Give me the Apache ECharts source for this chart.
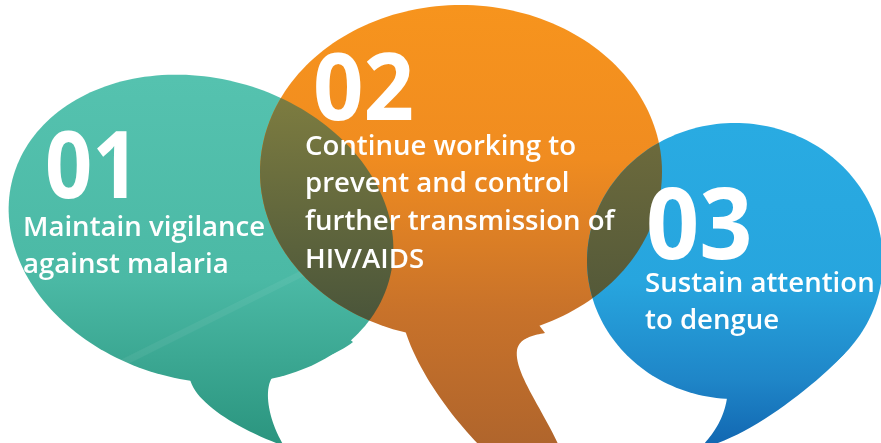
<!DOCTYPE html>
<html>
<head>
<meta charset="utf-8">
<script src="https://cdn.jsdelivr.net/npm/echarts@6/dist/echarts.min.js"></script>
<style>
html, body { margin: 0; padding: 0; background: #fff; }
#main { width: 881px; height: 443px; }
</style>
</head>
<body>
<div id="main"></div>
<script>
// step labels
var stepNumbers = ['01', '02', '03'];
var stepTexts = [
    'Maintain vigilance\nagainst malaria',
    'Continue working to\nprevent and control\nfurther transmission of\nHIV/AIDS',
    'Sustain attention\nto dengue'
];
// bubble centres and radii (axis units)
var centerX = [201, 461, 735];
var centerY = [229, 172, 261];
var radiusX = [195, 201, 148];
var radiusY = [151, 167, 138];
// which bubbles overlap
var overlapPairs = [[0, 1], [1, 2]];

// bubble tilt in degrees
var tilt = [15, 0, 0];
// tail outlines, axis units: [x,y] = line, [c1x,c1y,c2x,c2y,x,y] = cubic
var tails = [
    [[190, 360], [190, 379], [195, 402, 235, 428, 284, 446], [268, 420, 262, 386, 275, 374],
        [295, 366, 330, 360, 353, 342], [300, 300]],
    [[400, 320], [405, 330], [418, 372, 452, 418, 482, 448], [560, 448],
        [540, 405, 514, 372, 517, 350], [519, 340, 528, 336, 545, 333], [520, 300]],
    [[727, 370], [727, 398], [724, 418, 714, 434, 700, 448], [745, 440, 815, 386, 845, 353],
        [800, 330]]
];
// faint light streak on the first bubble
var streak = [[108, 366], [300, 271], [304, 276], [116, 370]];
// label offsets from bubble centre
var numberPos = [[-156, -58], [-148, -78.5], [-89, -30]];
var numberSize = [94, 94, 99];
var numberScale = [0.88, 0.94, 0.94];
var textPos = [[-178, -20], [-156, -44], [-90, 4]];

var bubbleColors = [
    [[0, '#55c2af'], [0.55, '#4bb9a5'], [1, '#2b957f']],
    [[0, '#f7941d'], [0.35, '#f08c20'], [0.7, '#c8722a'], [1, '#b0652c']],
    [[0, '#29abe2'], [0.5, '#27a5de'], [0.8, '#1f86c8'], [1, '#1268b2']]
];
var overlapColors = [
    [[0, '#7d7c40'], [1, '#4a553a']],
    [[0, '#6c6a3c'], [1, '#545939']]
];

var chartDom = document.getElementById('main');
var chart = echarts.init(chartDom, null, { renderer: 'canvas' });

function bubblePoints(api, i) {
    var c = api.coord([centerX[i], centerY[i]]);
    var s = api.size([radiusX[i], radiusY[i]]);
    var r = tilt[i] * Math.PI / 180;
    var cr = Math.cos(r), sr = Math.sin(r);
    var pts = [];
    for (var k = 0; k < 200; k++) {
        var a = k / 200 * Math.PI * 2;
        var px = s[0] * Math.cos(a), py = s[1] * Math.sin(a);
        pts.push([c[0] + px * cr - py * sr, c[1] + px * sr + py * cr]);
    }
    return pts;
}

function tailPoints(api, segs) {
    var pts = [];
    var prev = null;
    segs.forEach(function (seg) {
        if (seg.length === 2 || !prev) {
            prev = api.coord([seg[0], seg[1]]);
            pts.push(prev);
        } else {
            var p1 = api.coord([seg[0], seg[1]]);
            var p2 = api.coord([seg[2], seg[3]]);
            var p3 = api.coord([seg[4], seg[5]]);
            for (var k = 1; k <= 24; k++) {
                var t = k / 24, u = 1 - t;
                pts.push([
                    u * u * u * prev[0] + 3 * u * u * t * p1[0] + 3 * u * t * t * p2[0] + t * t * t * p3[0],
                    u * u * u * prev[1] + 3 * u * u * t * p1[1] + 3 * u * t * t * p2[1] + t * t * t * p3[1]
                ]);
            }
            prev = p3;
        }
    });
    return pts;
}

function gradient(stops, y0, y1) {
    return new echarts.graphic.LinearGradient(0, y0, 0, y1,
        stops.map(function (s) { return { offset: s[0], color: s[1] }; }), true);
}

// clip polygon subject by convex polygon clip (Sutherland-Hodgman)
function clipPolygon(subject, clip) {
    var area = 0;
    for (var i = 0; i < clip.length; i++) {
        var a = clip[i], b = clip[(i + 1) % clip.length];
        area += a[0] * b[1] - b[0] * a[1];
    }
    var sign = area > 0 ? 1 : -1;
    var out = subject;
    for (var e = 0; e < clip.length && out.length; e++) {
        var A = clip[e], B = clip[(e + 1) % clip.length];
        var inside = function (p) {
            return sign * ((B[0] - A[0]) * (p[1] - A[1]) - (B[1] - A[1]) * (p[0] - A[0])) >= 0;
        };
        var cross = function (P, Q) {
            var dx = Q[0] - P[0], dy = Q[1] - P[1];
            var ex = B[0] - A[0], ey = B[1] - A[1];
            var t = (ex * (P[1] - A[1]) - ey * (P[0] - A[0])) / (ey * dx - ex * dy);
            return [P[0] + t * dx, P[1] + t * dy];
        };
        var input = out;
        out = [];
        for (var j = 0; j < input.length; j++) {
            var cur = input[j], prv = input[(j + input.length - 1) % input.length];
            if (inside(cur)) {
                if (!inside(prv)) out.push(cross(prv, cur));
                out.push(cur);
            } else if (inside(prv)) {
                out.push(cross(prv, cur));
            }
        }
    }
    return out;
}

var bubbleData = stepNumbers.map(function (n, i) { return [centerX[i], centerY[i]]; });

option = {
    animation: false,
    grid: { left: 0, right: 0, top: 0, bottom: 0 },
    xAxis: { type: 'value', min: 0, max: 881, show: false },
    yAxis: { type: 'value', min: 0, max: 443, inverse: true, show: false },
    series: [
        {
            // bubbles
            type: 'custom',
            z: 1,
            data: bubbleData,
            renderItem: function (params, api) {
                var i = params.dataIndex;
                var top = api.coord([0, centerY[i] - radiusY[i]])[1];
                var bottom = api.coord([0, 443])[1];
                var fill = gradient(bubbleColors[i], top, bottom);
                var children = [
                    { type: 'polygon', shape: { points: bubblePoints(api, i) }, style: { fill: fill } },
                    { type: 'polygon', shape: { points: tailPoints(api, tails[i]) }, style: { fill: fill } }
                ];
                if (i === 0) {
                    children.push({
                        type: 'polygon',
                        shape: { points: streak.map(function (p) { return api.coord(p); }) },
                        style: { fill: 'rgba(255,255,255,0.06)' }
                    });
                }
                return { type: 'group', children: children };
            }
        },
        {
            // overlapping areas
            type: 'custom',
            z: 2,
            data: overlapPairs,
            renderItem: function (params, api) {
                var pair = overlapPairs[params.dataIndex];
                var pts = clipPolygon(bubblePoints(api, pair[0]), bubblePoints(api, pair[1]));
                var ys = pts.map(function (p) { return p[1]; });
                var fill = gradient(overlapColors[params.dataIndex], Math.min.apply(null, ys), Math.max.apply(null, ys));
                return { type: 'polygon', shape: { points: pts }, style: { fill: fill } };
            }
        },
        {
            // labels
            type: 'custom',
            z: 3,
            data: bubbleData,
            renderItem: function (params, api) {
                var i = params.dataIndex;
                var c = api.coord([api.value(0), api.value(1)]);
                return {
                    type: 'group',
                    children: [
                        {
                            type: 'text',
                            x: c[0] + numberPos[i][0],
                            y: c[1] + numberPos[i][1],
                            scaleX: numberScale[i],
                            style: {
                                text: stepNumbers[i],
                                fill: '#ffffff',
                                fontFamily: 'Open Sans',
                                fontWeight: 'bold',
                                fontSize: numberSize[i],
                                align: 'left',
                                verticalAlign: 'middle'
                            }
                        },
                        {
                            type: 'text',
                            x: c[0] + textPos[i][0],
                            y: c[1] + textPos[i][1],
                            style: {
                                text: stepTexts[i],
                                fill: '#ffffff',
                                fontFamily: 'Open Sans',
                                fontWeight: 600,
                                fontSize: 27.6,
                                lineHeight: 37.7,
                                align: 'left',
                                verticalAlign: 'top'
                            }
                        }
                    ]
                };
            }
        }
    ]
};

chart.setOption(option);
window.addEventListener('resize', chart.resize);
</script>
</body>
</html>
